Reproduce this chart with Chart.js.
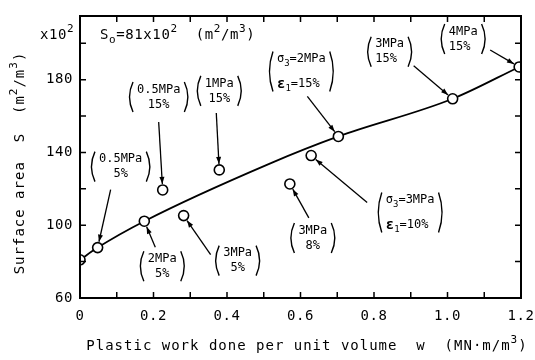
<!DOCTYPE html>
<html>
<head>
<meta charset="utf-8">
<script src="https://cdn.jsdelivr.net/npm/chart.js@4.4.0/dist/chart.umd.min.js"></script>
<style>
  html, body { margin: 0; padding: 0; background: #fff; }
  #wrap { width: 535px; height: 360px; }
</style>
</head>
<body>
<div id="wrap"><canvas id="surfaceChart" width="535" height="360"></canvas></div>
<script>
// Measured points: plastic work w (MN·m/m3) vs surface area S (x10^2 m2/m3)
const workDone    = [0, 0.048, 0.175, 0.282, 0.225, 0.379, 0.571, 0.629, 0.703, 1.014, 1.195];
const surfaceArea = [81, 87.7, 102.2, 105.3, 119.4, 130.4, 122.7, 138.3, 148.8, 169.5, 187];
const confinement = ['', '0.5MPa', '2MPa', '3MPa', '0.5MPa', '1MPa', '3MPa', '3MPa', '2MPa', '3MPa', '4MPa'];
const axialStrain = ['', '5%', '5%', '5%', '15%', '15%', '8%', '10%', '15%', '15%', '15%'];

// Hand-fitted curve through the data
const fitWork = [0, 0.048, 0.175, 0.518, 0.703, 1.014, 1.195];
const fitArea = [81, 87.7, 102.2, 134, 148.8, 169.5, 187];

const xTicks = [0, 0.2, 0.4, 0.6, 0.8, 1.0, 1.2];
const yTicks = [60, 100, 140, 180];

// Callout placement (pixel offsets from the point): label centre, leader start
const calloutLayout = [
    { i: 1, dx: 23, dy: -81, sx: 13, sy: -58 },
    { i: 2, dx: 18, dy: 45, sx: 11, sy: 26 },
    { i: 3, dx: 54, dy: 45, sx: 27, sy: 39 },
    { i: 4, dx: -4, dy: -93, sx: -4, sy: -68 },
    { i: 5, dx: 0, dy: -79, sx: -3, sy: -57 },
    { i: 6, dx: 23, dy: 54, sx: 19, sy: 34 },
    { i: 7, dx: 99, dy: 57, sx: 56, sy: 47, sym: true },
    { i: 8, dx: -37, dy: -65, sx: -31, sy: -40, sym: true },
    { i: 9, dx: -63, dy: -47, sx: -39, sy: -33, left: true },
    { i: 10, dx: -56, dy: -28, sx: -29, sy: -17, left: true }
];

const MONO = '"DejaVu Sans Mono", "Liberation Mono", monospace';

const fontFor = (kind, size) => {
    if (kind === 'sup' || kind === 'sub') return Math.round(size * 0.75) + 'px ' + MONO;
    if (kind === 'b') return 'bold ' + (size + 2) + 'px ' + MONO;
    return size + 'px ' + MONO;
};

const richWidth = (ctx, parts, size) => parts.reduce((w, [t, k]) => {
    ctx.font = fontFor(k, size);
    return w + ctx.measureText(t).width;
}, 0);

const drawRich = (ctx, parts, x, y, size, align) => {
    const w = richWidth(ctx, parts, size);
    let cx = align === 'center' ? x - w / 2 : x;
    ctx.textAlign = 'left';
    ctx.textBaseline = 'middle';
    parts.forEach(([t, k]) => {
        ctx.font = fontFor(k, size);
        const dy = k === 'sup' ? -size * 0.42 : k === 'sub' ? size * 0.38 : 0;
        ctx.fillText(t, cx, y + dy);
        cx += ctx.measureText(t).width;
    });
    return w;
};

const framePlugin = {
    id: 'frame',
    afterDatasetsDraw(chart) {
        const { ctx, chartArea: a, scales } = chart;
        const xs = scales.x, ys = scales.y;
        ctx.save();
        ctx.strokeStyle = '#000';
        ctx.fillStyle = '#000';
        ctx.lineWidth = 2;
        ctx.strokeRect(a.left, a.top, a.right - a.left, a.bottom - a.top);

        // inward ticks on all four sides
        ctx.lineWidth = 1.5;
        ctx.beginPath();
        for (let k = 0; k <= 12; k++) {
            const px = xs.getPixelForValue(k / 10);
            ctx.moveTo(px, a.bottom); ctx.lineTo(px, a.bottom - 6);
            ctx.moveTo(px, a.top); ctx.lineTo(px, a.top + 6);
        }
        for (let v = 60; v <= 200; v += 20) {
            const py = ys.getPixelForValue(v);
            ctx.moveTo(a.left, py); ctx.lineTo(a.left + 6, py);
            ctx.moveTo(a.right, py); ctx.lineTo(a.right - 6, py);
        }
        ctx.stroke();

        // tick labels
        ctx.letterSpacing = '0.6px';
        ctx.font = '14px ' + MONO;
        ctx.textBaseline = 'middle';
        ctx.textAlign = 'center';
        xTicks.forEach(v => {
            ctx.fillText(v === 0 ? '0' : v.toFixed(1), xs.getPixelForValue(v), a.bottom + 18);
        });
        ctx.textAlign = 'right';
        yTicks.forEach(v => {
            ctx.fillText(String(v), a.left - 7, ys.getPixelForValue(v));
        });

        // multiplier and initial value
        drawRich(ctx, [['x10', 'n'], ['2', 'sup']], 40, 35, 14, 'left');
        drawRich(ctx, [['S', 'n'], ['o', 'sub'], ['=81x10', 'n'], ['2', 'sup'], ['  (m', 'n'], ['2', 'sup'], ['/m', 'n'], ['3', 'sup'], [')', 'n']], 100, 35, 14, 'left');

        // axis titles
        ctx.letterSpacing = '1px';
        drawRich(ctx, [['Plastic work done per unit volume  w  (MN·m/m', 'n'], ['3', 'sup'], [')', 'n']], 307, 346, 14, 'center');
        ctx.save();
        ctx.translate(20, 163);
        ctx.rotate(-Math.PI / 2);
        drawRich(ctx, [['Surface area  S  (m', 'n'], ['2', 'sup'], ['/m', 'n'], ['3', 'sup'], [')', 'n']], 0, 0, 14, 'center');
        ctx.restore();
        ctx.letterSpacing = '0px';

        // callouts
        calloutLayout.forEach(c => {
            const px = xs.getPixelForValue(workDone[c.i]);
            const py = ys.getPixelForValue(surfaceArea[c.i]);
            const lx = px + c.dx, ly = py + c.dy;
            const size = 12;
            const lines = c.sym
                ? [[['σ', 'n'], ['3', 'sub'], ['=' + confinement[c.i], 'n']],
                   [['ε', 'b'], ['1', 'sub'], ['=' + axialStrain[c.i], 'n']]]
                : [[[confinement[c.i], 'n']], [[axialStrain[c.i], 'n']]];
            const maxW = Math.max(...lines.map(l => richWidth(ctx, l, size)));
            const gap = c.sym ? 12.5 : 7.5;
            const leftAligned = c.sym || c.left;
            lines.forEach((l, n) => {
                const y = ly + (n === 0 ? -gap : gap);
                if (leftAligned) drawRich(ctx, l, lx - maxW / 2, y, size, 'left');
                else drawRich(ctx, l, lx, y, size, 'center');
            });

            // tall parentheses
            const hw = maxW / 2 + 7, hh = c.sym ? 20 : 15;
            ctx.lineWidth = 1.4;
            ctx.beginPath();
            ctx.moveTo(lx - hw + 3, ly - hh);
            ctx.quadraticCurveTo(lx - hw - 4, ly, lx - hw + 3, ly + hh);
            ctx.moveTo(lx + hw - 3, ly - hh);
            ctx.quadraticCurveTo(lx + hw + 4, ly, lx + hw - 3, ly + hh);
            ctx.stroke();

            // leader with arrow head
            const sx = px + c.sx, sy = py + c.sy;
            const ang = Math.atan2(py - sy, px - sx);
            const ex = px - Math.cos(ang) * 6, ey = py - Math.sin(ang) * 6;
            ctx.lineWidth = 1.3;
            ctx.beginPath();
            ctx.moveTo(sx, sy);
            ctx.lineTo(ex, ey);
            ctx.stroke();
            const bx = ex - Math.cos(ang) * 7, by = ey - Math.sin(ang) * 7;
            ctx.beginPath();
            ctx.moveTo(ex, ey);
            ctx.lineTo(bx + Math.sin(ang) * 2.5, by - Math.cos(ang) * 2.5);
            ctx.lineTo(bx - Math.sin(ang) * 2.5, by + Math.cos(ang) * 2.5);
            ctx.closePath();
            ctx.fill();
        });
        ctx.restore();
    }
};

const initSurfaceChart = () => {
    const ctx = document.getElementById('surfaceChart').getContext('2d');
    return new Chart(ctx, {
        type: 'scatter',
        data: {
            datasets: [{
                label: 'Measured',
                data: workDone.map((w, k) => ({ x: w, y: surfaceArea[k] })),
                pointRadius: 5,
                pointBorderWidth: 1.6,
                pointBackgroundColor: '#fff',
                pointBorderColor: '#000',
                showLine: false,
                order: 0
            }, {
                label: 'Fit',
                type: 'line',
                data: fitWork.map((w, k) => ({ x: w, y: fitArea[k] })),
                borderColor: '#000',
                borderWidth: 1.8,
                pointRadius: 0,
                cubicInterpolationMode: 'monotone',
                fill: false,
                order: 1
            }]
        },
        options: {
            responsive: false,
            animation: false,
            layout: { padding: { left: 72, right: 14, top: 16, bottom: 54 } },
            plugins: {
                legend: { display: false },
                tooltip: { enabled: false }
            },
            scales: {
                x: {
                    type: 'linear', min: 0, max: 1.2,
                    grid: { display: false }, border: { display: false },
                    ticks: { display: false }
                },
                y: {
                    type: 'linear', min: 60, max: 215,
                    grid: { display: false }, border: { display: false },
                    ticks: { display: false }
                }
            }
        },
        plugins: [framePlugin]
    });
};

document.addEventListener('DOMContentLoaded', () => {
    initSurfaceChart();
});
</script>
</body>
</html>
